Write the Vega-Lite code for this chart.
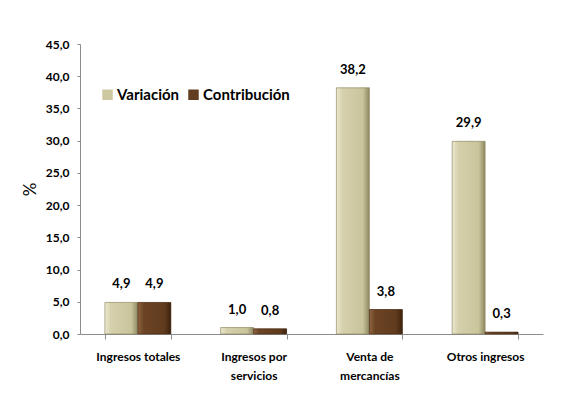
{
  "$schema": "https://vega.github.io/schema/vega-lite/v6.json",
  "width": 463,
  "height": 290,
  "autosize": {"type": "none"},
  "padding": {"left": 80, "top": 44, "right": 20, "bottom": 77},
  "background": "white",
  "data": {
    "values": [
      {"categoria": "Ingresos totales", "serie": "Variación", "valor": 4.9},
      {"categoria": "Ingresos totales", "serie": "Contribución", "valor": 4.9},
      {"categoria": "Ingresos por servicios", "serie": "Variación", "valor": 1.0},
      {"categoria": "Ingresos por servicios", "serie": "Contribución", "valor": 0.8},
      {"categoria": "Venta de mercancías", "serie": "Variación", "valor": 38.2},
      {"categoria": "Venta de mercancías", "serie": "Contribución", "valor": 3.8},
      {"categoria": "Otros ingresos", "serie": "Variación", "valor": 29.9},
      {"categoria": "Otros ingresos", "serie": "Contribución", "valor": 0.3}
    ]
  },
  "encoding": {
    "x": {
      "field": "categoria",
      "type": "nominal",
      "sort": null,
      "scale": {"paddingInner": 0.43, "paddingOuter": 0.215},
      "axis": {
        "title": null,
        "labelAngle": 0,
        "tickBand": "extent",
        "labelExpr": "datum.value == 'Ingresos por servicios' ? ['Ingresos por', 'servicios'] : datum.value == 'Venta de mercancías' ? ['Venta de', 'mercancías'] : datum.value",
        "labelPadding": 12,
        "labelLineHeight": 19
      }
    },
    "xOffset": {"field": "serie", "type": "nominal", "sort": ["Variación", "Contribución"], "scale": {"domain": ["Variación", "Contribución"], "paddingInner": 0}},
    "y": {
      "field": "valor",
      "type": "quantitative",
      "scale": {"domain": [0, 45], "nice": false},
      "axis": {"title": "%", "values": [0, 5, 10, 15, 20, 25, 30, 35, 40, 45], "format": ".1f", "grid": false, "titlePadding": 6, "labelPadding": 8, "tickSize": 3}
    }
  },
  "layer": [
    {
      "mark": {"type": "bar"},
      "encoding": {
        "color": {
          "field": "serie",
          "type": "nominal",
          "sort": ["Variación", "Contribución"],
          "scale": {"domain": ["Variación", "Contribución"], "range": ["#cec8a0", "#623d1f"]},
          "legend": {
            "title": null,
            "orient": "none",
            "legendX": 20,
            "legendY": 43,
            "direction": "horizontal",
            "symbolType": "square",
            "symbolSize": 110,
            "symbolStrokeWidth": 0,
            "labelFontSize": 15,
            "labelFontWeight": "bold",
            "labelFont": "Lato",
            "labelColor": "#000000",
            "columnPadding": 6,
            "labelOffset": 2
          }
        }
      }
    },
    {
      "transform": [{"filter": "datum.serie == 'Variación'"}],
      "mark": {
        "type": "bar",
        "stroke": "#8a8462",
        "strokeWidth": 0.6,
        "fill": {
          "x1": 0, "y1": 0, "x2": 1, "y2": 0,
          "gradient": "linear",
          "stops": [
            {"offset": 0, "color": "#ece8cf"},
            {"offset": 0.18, "color": "#d6d1ad"},
            {"offset": 0.8, "color": "#cac49b"},
            {"offset": 1, "color": "#8e8863"}
          ]
        }
      },
      "encoding": {}
    },
    {
      "transform": [{"filter": "datum.serie == 'Contribución'"}],
      "mark": {
        "type": "bar",
        "stroke": "#4a2e16",
        "strokeWidth": 0.6,
        "fill": {
          "x1": 0, "y1": 0, "x2": 1, "y2": 0,
          "gradient": "linear",
          "stops": [
            {"offset": 0, "color": "#8f6440"},
            {"offset": 0.18, "color": "#6c4424"},
            {"offset": 0.8, "color": "#603b1d"},
            {"offset": 1, "color": "#3c2310"}
          ]
        }
      },
      "encoding": {}
    },
    {
      "mark": {"type": "text", "baseline": "middle", "dy": -18, "fontSize": 13, "fontWeight": "bold", "font": "Lato", "color": "#000000"},
      "encoding": {"text": {"field": "valor", "type": "quantitative", "format": ".1f"}}
    }
  ],
  "config": {
    "locale": {"number": {"decimal": ",", "thousands": ".", "grouping": [3], "currency": ["$", ""]}},
    "view": {"stroke": null},
    "axis": {
      "labelFont": "Lato",
      "labelFontSize": 12,
      "labelFontWeight": "bold",
      "labelColor": "#000000",
      "titleFont": "Lato",
      "titleFontSize": 17,
      "titleFontWeight": "normal",
      "titleColor": "#000000",
      "domainColor": "#8c8c8c",
      "tickColor": "#8c8c8c",
      "tickSize": 5
    }
  }
}
